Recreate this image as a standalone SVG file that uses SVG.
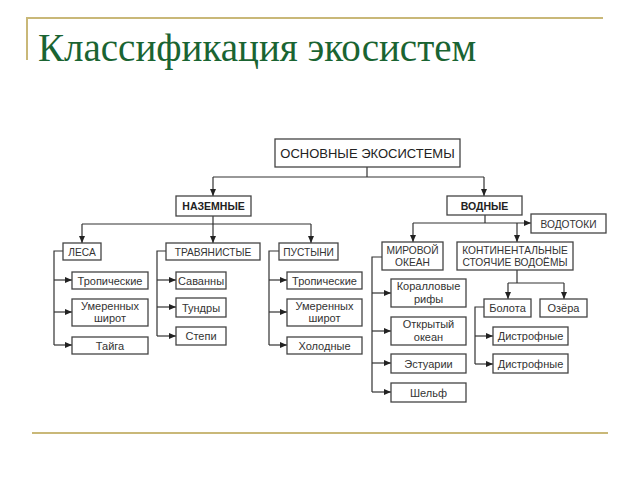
<svg xmlns="http://www.w3.org/2000/svg" width="640" height="480" viewBox="0 0 640 480">
<defs>
<style>
.box{fill:#fff;stroke:#444;stroke-width:1.3}
.t{font-family:"Liberation Sans",Arial,sans-serif;font-size:11px;fill:#333;text-anchor:middle}
.tu{font-family:"Liberation Sans",Arial,sans-serif;font-size:10.2px;fill:#333;text-anchor:middle}
.tb{font-family:"Liberation Sans",Arial,sans-serif;font-size:10.5px;font-weight:bold;fill:#222;text-anchor:middle}
.tm{font-family:"Liberation Sans",Arial,sans-serif;font-size:13px;fill:#222;text-anchor:middle}
.c{fill:none;stroke:#333;stroke-width:1.2}
.a{fill:none;stroke:#333;stroke-width:1.2;marker-end:url(#ah)}
.deco{stroke:#c9b878;stroke-width:2;fill:none}
</style>
<marker id="ah" markerUnits="userSpaceOnUse" markerWidth="7" markerHeight="7" refX="7" refY="3" orient="auto">
<path d="M0,0 L7,3 L0,6 z" fill="#222"/>
</marker>
</defs>
<rect width="640" height="480" fill="#fff"/>
<g id="decor">
<path class="deco" d="M27,60 V18 H603"/>
<path class="deco" d="M32,433 H608"/>
</g>
<text x="38" y="61" font-family="'Liberation Serif','Times New Roman',serif" font-size="39" fill="#1a6432">Классификация экосистем</text>

<g id="connectors">
<path class="c" d="M367,167 V177 M213,177 H484"/>
<path class="a" d="M213,177 V196"/>
<path class="a" d="M484,177 V196"/>
<path class="a" d="M213,216 V243"/>
<path class="c" d="M82,224 H311"/>
<path class="a" d="M82,224 V243"/>
<path class="a" d="M311,224 V243"/>
<path class="c" d="M63,251 H54 V345"/>
<path class="a" d="M54,280 H72"/>
<path class="a" d="M54,312 H72"/>
<path class="a" d="M54,345 H72"/>
<path class="c" d="M166,251 H157 V336"/>
<path class="a" d="M157,280 H176"/>
<path class="a" d="M157,307 H176"/>
<path class="a" d="M157,336 H176"/>
<path class="c" d="M279,251 H269 V345"/>
<path class="a" d="M269,280 H287"/>
<path class="a" d="M269,312 H287"/>
<path class="a" d="M269,345 H287"/>
<path class="c" d="M485,215 V223"/>
<path class="a" d="M413,223 H531"/>
<path class="a" d="M413,223 V242"/>
<path class="a" d="M517,223 V242"/>
<path class="c" d="M382,257 H372 V392"/>
<path class="a" d="M372,293 H391"/>
<path class="a" d="M372,331 H391"/>
<path class="a" d="M372,363 H391"/>
<path class="a" d="M372,392 H391"/>
<path class="c" d="M517,270 V283 M508,283 H564"/>
<path class="a" d="M508,283 V299"/>
<path class="a" d="M564,283 V299"/>
<path class="c" d="M484,307 H475 V364"/>
<path class="a" d="M475,336 H493"/>
<path class="a" d="M475,364 H493"/>
</g>

<g id="osnovnye"><rect class="box" x="275" y="139" width="185" height="28"/><text class="tm" x="367.5" y="158">ОСНОВНЫЕ ЭКОСИСТЕМЫ</text></g>
<g id="nazemnye"><rect class="box" x="176" y="196" width="75" height="20"/><text class="tb" x="213.5" y="210">НАЗЕМНЫЕ</text></g>
<g id="vodnye"><rect class="box" x="447" y="196" width="75" height="19"/><text class="tb" x="484.5" y="209.5">ВОДНЫЕ</text></g>

<g id="lesa"><rect class="box" x="63" y="243" width="38" height="17"/><text class="tu" x="82" y="255.5">ЛЕСА</text></g>
<g id="travy"><rect class="box" x="166" y="243" width="94" height="17"/><text class="tu" x="213" y="255.5">ТРАВЯНИСТЫЕ</text></g>
<g id="pustyni"><rect class="box" x="279" y="243" width="59" height="17"/><text class="tu" x="308.5" y="255.5">ПУСТЫНИ</text></g>

<g id="lesa-trop"><rect class="box" x="72" y="272" width="76" height="17"/><text class="t" x="110" y="285">Тропические</text></g>
<g id="lesa-umer"><rect class="box" x="72" y="299" width="76" height="27"/><text class="t" x="110" y="310">Умеренных</text><text class="t" x="110" y="322">широт</text></g>
<g id="lesa-taiga"><rect class="box" x="72" y="337" width="76" height="17"/><text class="t" x="110" y="350">Тайга</text></g>

<g id="savanny"><rect class="box" x="176" y="272" width="50" height="17"/><text class="t" x="201" y="285">Саванны</text></g>
<g id="tundry"><rect class="box" x="176" y="298" width="50" height="19"/><text class="t" x="201" y="312">Тундры</text></g>
<g id="stepi"><rect class="box" x="176" y="327" width="50" height="18"/><text class="t" x="201" y="340">Степи</text></g>

<g id="pust-trop"><rect class="box" x="287" y="272" width="75" height="17"/><text class="t" x="324.5" y="285">Тропические</text></g>
<g id="pust-umer"><rect class="box" x="287" y="299" width="75" height="27"/><text class="t" x="324.5" y="310">Умеренных</text><text class="t" x="324.5" y="322">широт</text></g>
<g id="pust-hol"><rect class="box" x="287" y="337" width="75" height="17"/><text class="t" x="324.5" y="350">Холодные</text></g>

<g id="vodotoki"><rect class="box" x="531" y="214" width="75" height="19"/><text class="tu" x="568.5" y="227.5">ВОДОТОКИ</text></g>
<g id="mirovoy"><rect class="box" x="382" y="242" width="61" height="28"/><text class="tu" x="412.5" y="253.5">МИРОВОЙ</text><text class="tu" x="412.5" y="266">ОКЕАН</text></g>
<g id="kontinent"><rect class="box" x="457" y="242" width="116" height="28"/><text class="tu" x="515" y="253.5">КОНТИНЕНТАЛЬНЫЕ</text><text class="tu" x="515" y="266">СТОЯЧИЕ ВОДОЁМЫ</text></g>

<g id="korall"><rect class="box" x="391" y="279" width="75" height="28"/><text class="t" x="428.5" y="290">Коралловые</text><text class="t" x="428.5" y="303">рифы</text></g>
<g id="otkryty"><rect class="box" x="391" y="317" width="75" height="28"/><text class="t" x="428.5" y="328">Открытый</text><text class="t" x="428.5" y="341">океан</text></g>
<g id="estuarii"><rect class="box" x="391" y="354" width="75" height="19"/><text class="t" x="428.5" y="367.5">Эстуарии</text></g>
<g id="shelf"><rect class="box" x="391" y="383" width="75" height="19"/><text class="t" x="428.5" y="396.5">Шельф</text></g>

<g id="bolota"><rect class="box" x="484" y="299" width="47" height="18"/><text class="t" x="507.5" y="312">Болота</text></g>
<g id="ozera"><rect class="box" x="540" y="299" width="47" height="18"/><text class="t" x="563.5" y="312">Озёра</text></g>
<g id="distr1"><rect class="box" x="493" y="327" width="75" height="18"/><text class="t" x="530.5" y="340">Дистрофные</text></g>
<g id="distr2"><rect class="box" x="493" y="354" width="75" height="19"/><text class="t" x="530.5" y="367.5">Дистрофные</text></g>
</svg>
